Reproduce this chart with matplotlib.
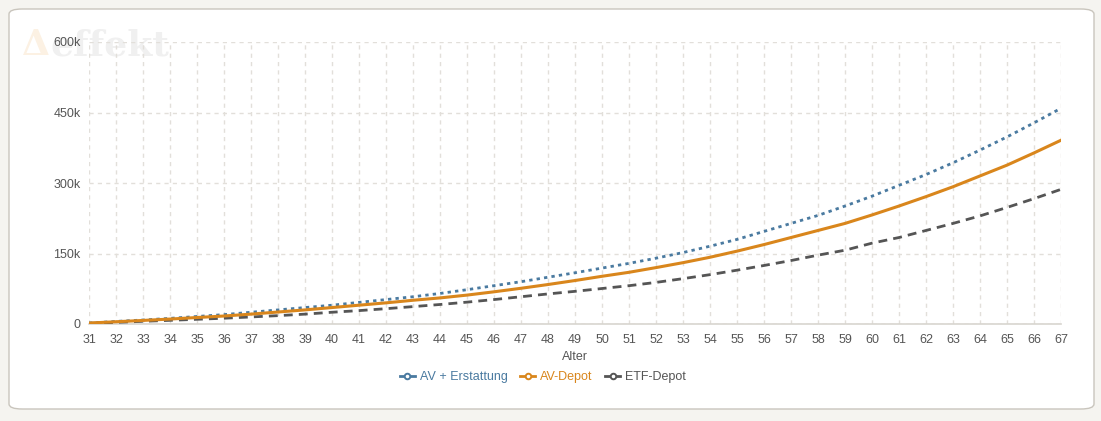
import matplotlib.pyplot as plt
from matplotlib.patches import FancyBboxPatch
from matplotlib.lines import Line2D
from matplotlib.ticker import FuncFormatter

# Alter (Jahre) und Depotwerte in Tausend Euro
alter = list(range(31, 68))
av_erstattung = [2, 5.5, 8.5, 12, 16, 20, 25, 30, 35, 40, 46, 52, 58, 65, 73, 81.5,
                 90, 99.5, 109, 119, 129, 140, 152, 165.5, 180, 197, 214, 231, 251,
                 272, 295, 318, 343, 370, 398, 428, 459]
av_depot = [2, 4.8, 7.6, 10.5, 13.8, 17, 21, 25.5, 30, 35, 40, 45, 50.5, 55.5, 61.5,
            68.5, 76, 84, 92.5, 101.5, 110, 120, 130.5, 142, 155, 169, 184, 199, 214,
            232, 251, 271, 292, 315, 338, 364, 391]
etf_depot = [1.5, 3.5, 5.7, 7.8, 10, 12.3, 15, 17.8, 21, 25, 28.5, 32.6, 37, 41.5,
             46.5, 52, 58, 64, 69.5, 75.5, 81.5, 88.5, 96.5, 105, 114.5, 124.5, 135,
             146.5, 157, 172, 184, 199, 214, 230, 248, 266.7, 286.5]
y_ticks = [0, 150, 300, 450, 600]

BLAU = "#4a7aa0"
ORANGE = "#d9861c"
GRAU = "#555555"
TEXT = "#555555"

plt.rcParams['font.family'] = ['Liberation Sans', 'DejaVu Sans']

fig = plt.figure(figsize=(11.01, 4.21), dpi=100)
fig.patch.set_facecolor("#f5f4f0")

# weisse Karte mit abgerundeten Ecken
karte = FancyBboxPatch((9 / 1101, 12 / 421), 1085 / 1101, 400 / 421,
                       boxstyle="round,pad=0,rounding_size=0.012",
                       transform=fig.transFigure, facecolor="white",
                       edgecolor="#c9c5bd", linewidth=1.0, zorder=-10)
fig.patches.append(karte)

# Wasserzeichen (liegt wie im Original hinter der Beschriftung)
fig.text(22 / 1101, 1 - 55 / 421, "\u0394", fontsize=26, color="#fcf1e3",
         family="DejaVu Serif", weight="bold", zorder=-5)
fig.text(50 / 1101, 1 - 55 / 421, "effekt", fontsize=26, color="#f0f0f0",
         family="DejaVu Serif", weight="bold", zorder=-5)

ax = fig.add_axes([89 / 1101, 1 - 324 / 421, 972 / 1101, 282 / 421])
ax.set_facecolor("none")

ax.plot(alter, av_erstattung, color=BLAU, linewidth=2.0, linestyle=(0, (1.2, 1.5)),
        zorder=3)
ax.plot(alter, av_depot, color=ORANGE, linewidth=2.2, linestyle="-", zorder=4)
ax.plot(alter, etf_depot, color=GRAU, linewidth=2.0, linestyle=(0, (3.2, 2.2)), zorder=3)

ax.set_xlim(31, 67)
ax.set_ylim(0, 600)
ax.set_xticks(alter)
ax.set_yticks(y_ticks)
ax.yaxis.set_major_formatter(FuncFormatter(lambda v, p: "0" if v == 0 else f"{v:.0f}k"))

ax.grid(True, color="#e2dfda", linestyle=(0, (3, 3)), linewidth=1.0)
for s in ["top", "right", "left"]:
    ax.spines[s].set_visible(False)
ax.spines["bottom"].set_color("#d8d5cf")
ax.spines["bottom"].set_linewidth(1.2)
ax.tick_params(axis="both", length=0, labelsize=9, labelcolor=TEXT)
ax.tick_params(axis="x", pad=7)
ax.tick_params(axis="y", pad=6)

ax.set_xlabel("Alter", fontsize=9, color=TEXT, labelpad=4)

handles = [
    Line2D([], [], color=BLAU, marker="o", markersize=4, markerfacecolor="white",
           markeredgewidth=1.4, linewidth=2),
    Line2D([], [], color=ORANGE, marker="o", markersize=4, markerfacecolor="white",
           markeredgewidth=1.4, linewidth=2),
    Line2D([], [], color=GRAU, marker="o", markersize=4, markerfacecolor="white",
           markeredgewidth=1.4, linewidth=2),
]
leg = fig.legend(handles, ["AV + Erstattung", "AV-Depot", "ETF-Depot"],
                 loc="center", bbox_to_anchor=(543 / 1101, 1 - 377 / 421), ncol=3,
                 frameon=False, fontsize=9, handlelength=1.2, handletextpad=0.4,
                 columnspacing=1.0)
for txt, c in zip(leg.get_texts(), [BLAU, ORANGE, GRAU]):
    txt.set_color(c)

fig.savefig("out.png", dpi=100, facecolor=fig.get_facecolor())
